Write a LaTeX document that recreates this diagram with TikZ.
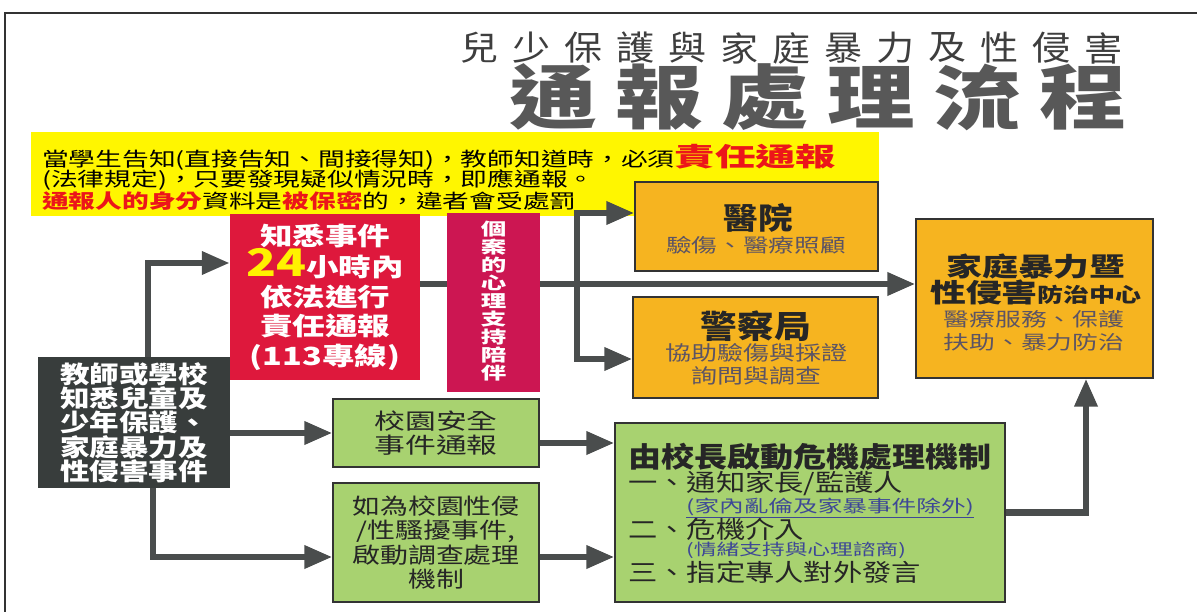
\documentclass[tikz,border=0pt]{standalone}
\usepackage{fontspec}
\setmainfont{Noto Sans CJK TC}
\usepackage{graphicx}
\usetikzlibrary{arrows.meta}
\usetikzlibrary{positioning}

\definecolor{signyellow}{RGB}{255,246,0}
\definecolor{alarmred}{RGB}{222,24,60}
\definecolor{careplum}{RGB}{204,22,82}
\definecolor{amber}{RGB}{246,180,32}
\definecolor{leaf}{RGB}{168,210,112}
\definecolor{slate}{RGB}{56,61,60}
\definecolor{pipe}{RGB}{74,77,77}
\definecolor{inkred}{RGB}{236,22,26}
\definecolor{notegray}{RGB}{92,84,100}
\definecolor{noteblue}{RGB}{62,72,150}
\definecolor{titlegray}{RGB}{62,62,62}
\definecolor{bigtitle}{RGB}{88,88,88}

\newcommand{\fsz}[2]{\fontsize{#1pt}{#2pt}\selectfont}
\newcommand{\wide}[2][1.3]{\scalebox{#1}[1]{#2}}

\tikzset{
  panel/.style={inner sep=0pt},
  framed/.style={panel, draw=black!80, line width=1.3pt},
  txt/.style={inner sep=0pt},
  flow/.style={draw=pipe, line width=6.5pt, -{Triangle[length=28pt,width=22pt]}},
  pipeline/.style={draw=pipe, line width=6.5pt},
}

\begin{document}
\begin{tikzpicture}[x=1pt,y=-1pt]
  \useasboundingbox (0,0) rectangle (1197,612);
  \draw[black!80, line width=1.5pt] (5,612) -- (5,13) -- (1197,13);
  % title
  \foreach \c [count=\i] in {兒,少,保,護,與,家,庭,暴,力,及,性,侵,害}
    \node[txt, font=\fsz{34}{34}, text=titlegray] (tt\i) at ({454+52*(\i-0.5)},48) {\wide[1.12]{\c}};
  \foreach \c [count=\i] in {通,報,處,理,流,程}
    \node[txt, font=\bfseries\fsz{70}{70}, text=bigtitle] (tb\i) at ({500+106*(\i-0.5)},97) {\wide[1.25]{\c}};

  % yellow note
  \fill[signyellow] (31,132) rectangle (879,216);
  \node[txt, anchor=west, font=\fsz{19.5}{19.5}] (note1) at (42,157)
    {\wide[1.37]{當學生告知(直接告知、間接得知)，教師知道時，必須}{\color{inkred}\bfseries\fsz{26}{26}\wide[1.55]{責任通報}}};
  \node[txt, anchor=west, font=\fsz{19.5}{19.5}] (note2) at (42,180)
    {\wide[1.37]{(法律規定)，只要發現疑似情況時，即應通報。}};
  \node[txt, anchor=west, font=\fsz{19.5}{19.5}] (note3) at (42,201)
    {\wide[1.37]{{\color{inkred}\bfseries 通報人的身分}資料是{\color{inkred}\bfseries 被保密}的，違者會受處罰}};

  % boxes
  \node[panel, fill=alarmred, minimum width=190pt, minimum height=166pt, text=white, align=center,
        font=\bfseries\fsz{25}{29.5}] (report) at (325,297)
    {\wide{知悉事件}\\\wide{{\color{yellow}\fsz{38}{38}24}小時內}\\\wide{依法進行}\\\wide{責任通報}\\\wide{(113專線)}};
  \node[panel, fill=careplum, minimum width=93pt, minimum height=179pt] (support) at (493.5,302.5) {};
  \foreach \c [count=\i] in {個,案,的,心,理,支,持,陪,伴}
    \node[txt, text=white, font=\bfseries\fsz{17}{17}] (sup\i) at (493.5,{229+18*(\i-1)}) {\wide[1.5]{\c}};

  \node[framed, fill=amber, minimum width=243pt, minimum height=89pt] (hospital) at (756.5,226.5) {};
  \node[txt, font=\bfseries\fsz{30}{30}, text=black!85] (hosp1) at (758,218) {\wide[1.15]{醫院}};
  \node[txt, font=\fsz{19}{19}, text=notegray] (hosp2) at (756,245) {\wide[1.35]{驗傷、醫療照顧}};

  \node[framed, fill=amber, minimum width=245pt, minimum height=101pt] (police) at (755.5,347.5) {};
  \node[txt, font=\bfseries\fsz{32}{32}, text=black!85] (pol1) at (756,326) {\wide[1.15]{警察局}};
  \node[txt, font=\fsz{20}{20}, text=notegray] (pol2) at (756,353) {\wide[1.3]{協助驗傷與採證}};
  \node[txt, font=\fsz{20}{20}, text=notegray] (pol3) at (756,376) {\wide[1.3]{詢問與調查}};

  \node[framed, fill=amber, minimum width=237pt, minimum height=159pt] (dvcenter) at (1034.5,298.5) {};
  \node[txt, font=\bfseries\fsz{26}{26}, text=black!85] (dv1) at (1036,266) {\wide[1.38]{家庭暴力暨}};
  \node[txt, font=\bfseries\fsz{26}{26}, text=black!85] (dv2) at (1036,292) {\wide[1.38]{性侵害}{\fsz{20}{20}\wide[1.3]{防治中心}}};
  \node[txt, font=\fsz{19}{19}, text=notegray] (dv3) at (1034,319) {\wide[1.36]{醫療服務、保護}};
  \node[txt, font=\fsz{19}{19}, text=notegray] (dv4) at (1034,342) {\wide[1.36]{扶助、暴力防治}};

  \node[panel, fill=slate, minimum width=192pt, minimum height=131pt, text=white, align=center,
        font=\bfseries\fsz{24}{24.3}] (teacher) at (134,422.5)
    {\wide[1.23]{教師或學校}\\\wide[1.23]{知悉兒童及}\\\wide[1.23]{少年保護、}\\\wide[1.23]{家庭暴力及}\\\wide[1.23]{性侵害事件}};

  \node[framed, fill=leaf, minimum width=206pt, minimum height=68pt, text=black!85, align=center,
        font=\fsz{22}{24}] (safety) at (436,433)
    {\wide[1.4]{校園安全}\\\wide[1.4]{事件通報}};
  \node[framed, fill=leaf, minimum width=206pt, minimum height=119pt, text=black!85, align=center,
        font=\fsz{22}{24.3}] (harass) at (436,542.5)
    {\wide[1.27]{如為校園性侵}\\\wide[1.27]{/性騷擾事件,}\\\wide[1.27]{啟動調查處理}\\\wide[1.27]{機制}};

  \node[framed, fill=leaf, minimum width=390pt, minimum height=179pt] (crisis) at (810,512.5) {};
  \node[txt, anchor=west, font=\bfseries\fsz{28}{28}, text=black!85] (cr1) at (628,457) {\wide[1.18]{由校長啟動危機處理機制}};
  \node[txt, anchor=west, font=\fsz{24}{24}, text=black!85] (cr2) at (628,483) {\wide[1.22]{一、通知家長/監護人}};
  \node[txt, anchor=west, font=\fsz{17}{17}, text=noteblue] (cr3) at (686,508) {\wide[1.45]{\underline{(家內亂倫及家暴事件除外)}}};
  \node[txt, anchor=west, font=\fsz{24}{24}, text=black!85] (cr4) at (628,529) {\wide[1.22]{二、危機介入}};
  \node[txt, anchor=west, font=\fsz{16}{16}, text=noteblue] (cr5) at (686,550) {\wide[1.42]{(情緒支持與心理諮商)}};
  \node[txt, anchor=west, font=\fsz{24}{24}, text=black!85] (cr6) at (628,572) {\wide[1.22]{三、指定專人對外發言}};

  % connectors
  \draw[flow] ([xshift=14pt]teacher.north) |- ([yshift=34pt]report.west);
  \draw[flow] (teacher.east |- safety.west) -- (safety.west);
  \draw[flow] ([xshift=19pt]teacher.south) |- ([yshift=-14.5pt]harass.west);
  \draw[pipeline] ([yshift=13pt]report.east) -- ([yshift=13pt]report.east -| support.west);
  \draw[flow] ([yshift=13pt]report.east -| support.east) -- ([yshift=13pt]report.east -| dvcenter.west);
  \coordinate (fork) at (577,284);
  \draw[flow] (fork) |- ([yshift=13.5pt]hospital.west);
  \draw[flow] (fork) |- ([yshift=-11.5pt]police.west);
  \draw[flow] ([yshift=-10pt]safety.east) -- ([yshift=-10pt]safety.east -| crisis.west);
  \draw[flow] ([yshift=-14.5pt]harass.east) -- ([yshift=-14.5pt]harass.east -| crisis.west);
  \draw[flow] (crisis.east) -| ([xshift=51.5pt]dvcenter.south);
\end{tikzpicture}
\end{document}
